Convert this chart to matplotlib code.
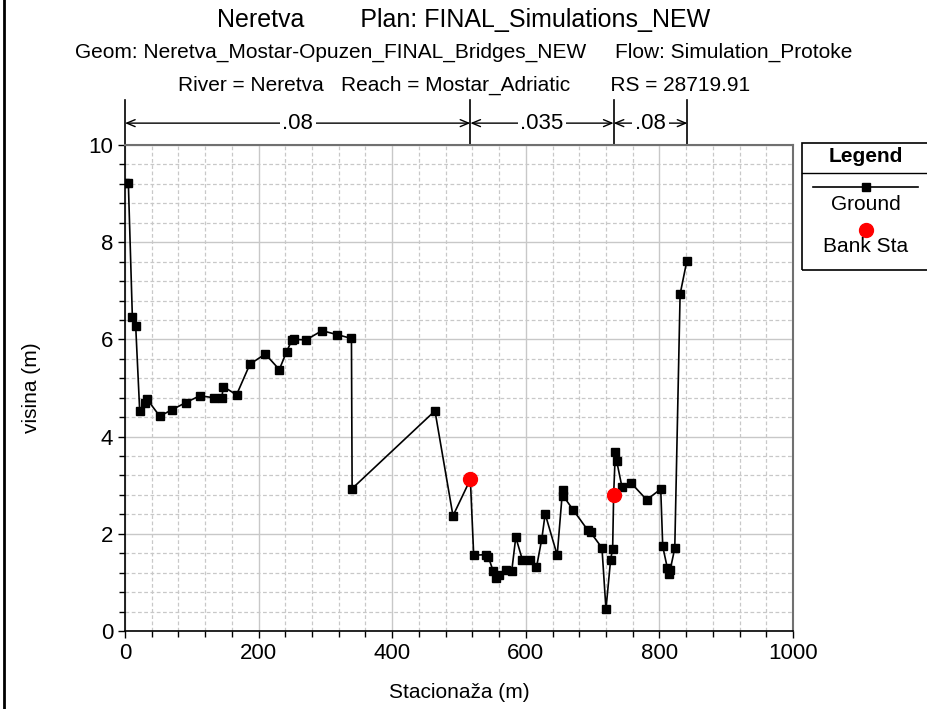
import matplotlib
matplotlib.use("Agg")
import numpy as np
from matplotlib import pyplot as plt
from matplotlib.lines import Line2D
from matplotlib.patches import Rectangle
from matplotlib.ticker import MultipleLocator

plt.rcParams['font.family'] = ['Liberation Sans', 'DejaVu Sans']

# ground profile (station, elevation) - bank stations are ground points too
station = [0, 5, 11, 16, 22, 30, 33, 52, 70, 91, 112, 133, 145, 147, 167,
           187, 210, 231, 242, 250, 253, 271, 295, 317, 339, 340, 464, 491,
           517, 522, 540, 544, 551, 556, 560, 570, 579, 585, 595, 606, 616,
           624, 629, 647, 655, 656, 671, 693, 697, 714, 720, 727, 730, 731.5,
           734, 736, 744, 758, 781, 802, 805, 812, 814, 816, 823, 831, 841]
elevation = [9.22, 9.22, 6.47, 6.28, 4.53, 4.70, 4.77, 4.42, 4.55, 4.70,
             4.84, 4.80, 4.79, 5.03, 4.86, 5.49, 5.70, 5.38, 5.75, 5.99,
             6.00, 5.99, 6.18, 6.10, 6.02, 2.93, 4.53, 2.37, 3.12, 1.56,
             1.57, 1.52, 1.24, 1.10, 1.15, 1.25, 1.24, 1.93, 1.46, 1.46,
             1.31, 1.90, 2.41, 1.56, 2.90, 2.78, 2.49, 2.07, 2.03, 1.71,
             0.45, 1.47, 1.69, 2.80, 3.68, 3.50, 2.96, 3.04, 2.70, 2.92,
             1.74, 1.29, 1.17, 1.25, 1.70, 6.93, 7.61]

bank_sta = [517, 731.5]
bank_elev = [3.12, 2.80]

# Manning's n regions
n_bounds = [0, 517, 731.5, 842]
n_values = [".08", ".035", ".08"]

W, H = 928, 709
fig = plt.figure(figsize=(W / 100, H / 100), dpi=100)
ax = fig.add_axes([125 / W, (H - 631) / H, 668 / W, 486 / H])

is_bank = [s in bank_sta for s in station]
gx = [s for s, b in zip(station, is_bank) if not b]
gy = [e for e, b in zip(elevation, is_bank) if not b]
ax.plot(station, elevation, color='black', lw=1.2, zorder=3)
ax.plot(gx, gy, ls='none', marker='s', ms=6, color='black', zorder=3)
ax.plot(bank_sta, bank_elev, ls='none', marker='o', ms=10,
        color='red', zorder=4)

ax.set_xlim(0, 1000)
ax.set_ylim(0, 10)
ax.xaxis.set_major_locator(MultipleLocator(200))
ax.xaxis.set_minor_locator(MultipleLocator(40))
ax.yaxis.set_major_locator(MultipleLocator(2))
ax.yaxis.set_minor_locator(MultipleLocator(0.4))
ax.grid(which='major', color='#c8c8c8', lw=1, ls='-')
ax.grid(which='minor', color='#c8c8c8', lw=0.9, ls=(0, (3, 2)))
ax.set_axisbelow(True)
ax.tick_params(which='both', direction='out', length=5, width=1, labelsize=16)
ax.tick_params(which='minor', length=4)
for s in ['top', 'right']:
    ax.spines[s].set_color('#707070')
    ax.spines[s].set_linewidth(1.5)
for s in ['left', 'bottom']:
    ax.spines[s].set_linewidth(1.2)

fig.text(459 / W, 1 - 693 / H, "Stacionaža (m)", ha='center', va='center',
         fontsize=15)
fig.text(32 / W, 1 - 388 / H, "visina (m)", ha='center', va='center',
         fontsize=15, rotation=90)

# n-value bars above the plot
tr = ax.get_xaxis_transform()
for xb in n_bounds:
    ax.plot([xb, xb], [1.0, 1.093], transform=tr, color='black', lw=1.2,
            clip_on=False)
for i, nv in enumerate(n_values):
    x0, x1 = n_bounds[i], n_bounds[i + 1]
    ax.annotate('', xy=(x0, 1.045), xytext=(x1, 1.045), xycoords=tr,
                textcoords=tr,
                arrowprops=dict(arrowstyle='<->,head_length=0.6,head_width=0.25',
                                color='black', lw=1, shrinkA=0, shrinkB=0))
    ax.text((x0 + x1) / 2, 1.045, nv, transform=tr, ha='center', va='center',
            fontsize=16, bbox=dict(facecolor='white', edgecolor='none', pad=2))

# titles
fig.text(0.5, 1 - 20 / H, "Neretva        Plan: FINAL_Simulations_NEW",
         ha='center', va='center', fontsize=18)
fig.text(0.5, 1 - 52 / H,
         "Geom: Neretva_Mostar-Opuzen_FINAL_Bridges_NEW     Flow: Simulation_Protoke",
         ha='center', va='center', fontsize=15)
fig.text(0.5, 1 - 85 / H,
         "River = Neretva   Reach = Mostar_Adriatic       RS = 28719.91",
         ha='center', va='center', fontsize=15)

# legend box
lx0, lx1 = 802, 935
fig.add_artist(Rectangle((lx0 / W, 1 - 270 / H), (lx1 - lx0) / W, 127 / H,
                         transform=fig.transFigure, fill=False,
                         edgecolor='black', lw=1.2))
fig.add_artist(Line2D([lx0 / W, 1], [1 - 173 / H] * 2, color='black', lw=1))
fig.text(866 / W, 1 - 157 / H, "Legend", ha='center', va='center',
         fontsize=15, fontweight='bold')
fig.add_artist(Line2D([813 / W, 918 / W], [1 - 187 / H] * 2, color='black',
                      lw=1.2))
fig.add_artist(Line2D([866 / W], [1 - 187 / H], marker='s', ms=6,
                      color='black', ls='none'))
fig.text(866 / W, 1 - 205 / H, "Ground", ha='center', va='center', fontsize=15)
fig.add_artist(Line2D([866 / W], [1 - 230 / H], marker='o', ms=10,
                      color='red', ls='none'))
fig.text(866 / W, 1 - 247 / H, "Bank Sta", ha='center', va='center',
         fontsize=15)

# left border of the frame
fig.add_artist(Line2D([4 / W, 4 / W], [0, 1], color='black', lw=2))

fig.savefig("out.png", dpi=100)
